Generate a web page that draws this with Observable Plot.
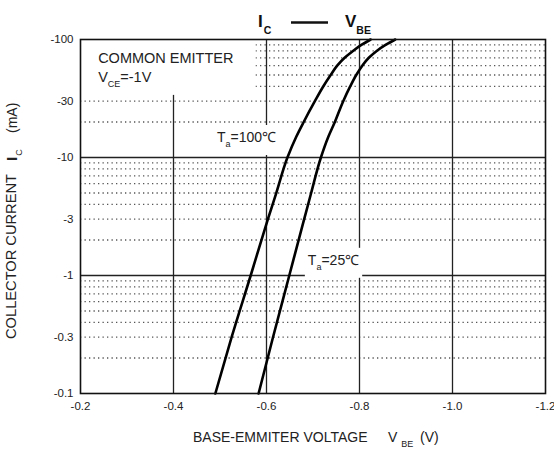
<!DOCTYPE html>
<html><head><meta charset="utf-8">
<script src="https://cdn.jsdelivr.net/npm/d3@7"></script>
<script src="https://cdn.jsdelivr.net/npm/@observablehq/plot@0.6"></script>
<style>
body{margin:0;background:#fff}
#chart svg{font-family:"Liberation Sans",Arial,Helvetica,sans-serif;}
</style>
</head><body><div id="chart"></div>
<script>
// Tick values
const currentTicks = [0.1, 0.3, 1, 3, 10, 30, 100];          // mA (shown negative)
const voltageTicks = [0.2, 0.4, 0.6, 0.8, 1.0, 1.2];          // V (shown negative)
const decadeLines = [1, 10];
const innerVoltageLines = [0.4, 0.6, 0.8, 1.0];
const minorCurrent = [0.2,0.3,0.4,0.5,0.6,0.7,0.8,0.9, 2,3,4,5,6,7,8,9, 20,30,40,50,60,70,80,90];

// Collector current readings (mA)
const icPoints = [0.1, 0.3, 1, 3, 5, 10, 15, 20, 30, 40, 50, 60, 70, 80, 90, 100];
// Ta = 100°C curve: VBE (V)
const vbe100 = [0.490, 0.525, 0.566, 0.603, 0.621, 0.645, 0.664, 0.680, 0.704, 0.722, 0.738, 0.752, 0.768, 0.786, 0.804, 0.824];
// Ta = 25°C curve: VBE (V)
const vbe25  = [0.583, 0.614, 0.649, 0.681, 0.696, 0.717, 0.733, 0.747, 0.765, 0.780, 0.793, 0.806, 0.820, 0.837, 0.856, 0.877];

const series = [
  ...icPoints.map((ic, i) => ({t: "100", ic, vbe: vbe100[i]})),
  ...icPoints.map((ic, i) => ({t: "25", ic, vbe: vbe25[i]}))
];

const chart = Plot.plot({
  width: 554, height: 450,
  marginLeft: 80, marginRight: 9, marginTop: 39, marginBottom: 57,
  style: {fontSize: "11.5px", color: "#222", background: "#fff", fontFamily: '"Liberation Sans",Arial,sans-serif'},
  x: {domain: [0.2, 1.2], ticks: voltageTicks, tickFormat: d => "-" + d.toFixed(1), tickSize: 0, tickPadding: 8, label: null},
  y: {type: "log", domain: [0.1, 100], ticks: currentTicks, tickFormat: d => "-" + d, tickSize: 0, tickPadding: 7, label: null},
  marks: [
    Plot.ruleY(minorCurrent, {stroke: "#555", strokeWidth: 1.3, strokeDasharray: "1.3,3.2"}),
    Plot.ruleY(decadeLines, {stroke: "#222", strokeWidth: 1.3}),
    Plot.ruleX(innerVoltageLines, {stroke: "#222", strokeWidth: 1.3}),
    Plot.line(series, {x: "vbe", y: "ic", z: "t", stroke: "#000", strokeWidth: 2.6, curve: "monotone-y"}),
    Plot.frame({stroke: "#111", strokeWidth: 1.6})
  ]
});
document.getElementById("chart").appendChild(chart);

const FONT = '"Liberation Sans",Arial,sans-serif';
const svgSel = d3.select(chart);
const sx = chart.scale("x"), sy = chart.scale("y");
const lineNode = chart.querySelector('g[aria-label="line"]');
const ann = d3.create("svg:g").attr("font-family", FONT).attr("fill", "#222").attr("text-anchor", "start");
chart.insertBefore(ann.node(), lineNode);

function masked(g, padL, padR, padT, padB, fixed) {
  const b = g.node().getBBox();
  let x0 = b.x - padL, x1 = b.x + b.width + padR, y0 = b.y - padT, y1 = b.y + b.height + padB;
  if (fixed) { x0 = Math.max(x0, fixed.x0); y0 = Math.max(y0, fixed.y0); }
  g.insert("rect", ":first-child").attr("x", x0).attr("y", y0).attr("width", x1 - x0).attr("height", y1 - y0).attr("fill", "#fff");
}

// COMMON EMITTER box
const boxG = ann.append("g");
boxG.append("text").attr("x", sx.apply(0.239)).attr("y", sy.apply(62.7)).attr("font-size", 14.5).text("COMMON EMITTER");
const vce = boxG.append("text").attr("x", sx.apply(0.239)).attr("y", sy.apply(43.3)).attr("font-size", 14.5);
vce.append("tspan").text("V");
vce.append("tspan").attr("font-size", 9).attr("dy", 5).text("CE");
vce.append("tspan").attr("dy", -5).text("=-1V");
masked(boxG, 20, 22, 14, 6, {x0: sx.apply(0.2) + 1, y0: sy.apply(100) + 1});

// Ta labels
function taLabel(v, i, temp) {
  const g = ann.append("g");
  const t = g.append("text").attr("x", sx.apply(v)).attr("y", sy.apply(i)).attr("font-size", 14);
  t.append("tspan").text("T");
  t.append("tspan").attr("font-size", 9).attr("dy", 5).text("a");
  t.append("tspan").attr("dy", -5).text("=" + temp + "℃");
  masked(g, 3, 3, 4, 6);
}
taLabel(0.4946, 13.4, "100");
taLabel(0.690, 1.22, "25");

// Title  I_C —— V_BE
const titleG = svgSel.append("g").attr("font-family", FONT).attr("fill", "#111").attr("font-weight", "bold").attr("text-anchor", "start");
const t1 = titleG.append("text").attr("x", 258).attr("y", 27).attr("font-size", 17);
t1.append("tspan").text("I");
t1.append("tspan").attr("font-size", 10.5).attr("dy", 7).attr("dx", 1).text("C");
titleG.append("line").attr("x1", 291).attr("x2", 328).attr("y1", 22.5).attr("y2", 22.5).attr("stroke", "#111").attr("stroke-width", 2.6);
const t2 = titleG.append("text").attr("x", 345).attr("y", 27).attr("font-size", 17);
t2.append("tspan").text("V");
t2.append("tspan").attr("font-size", 10.5).attr("dy", 7).text("BE");

// X axis title
const xTitle = svgSel.append("g").attr("font-family", FONT).attr("fill", "#222").attr("font-size", 14).attr("text-anchor", "start");
xTitle.append("text").attr("x", 193).attr("y", 442).text("BASE-EMMITER VOLTAGE");
const xv = xTitle.append("text").attr("x", 388).attr("y", 442);
xv.append("tspan").text("V");
xv.append("tspan").attr("font-size", 9).attr("dy", 5).attr("dx", 4).text("BE");
xTitle.append("text").attr("x", 420).attr("y", 442).text("(V)");

// Y axis title (rotated)
const yTitle = svgSel.append("g").attr("transform", "translate(16,0) rotate(-90)").attr("font-family", FONT).attr("fill", "#222").attr("font-size", 14).attr("text-anchor", "start");
yTitle.append("text").attr("x", -339).attr("y", 0).attr("textLength", 165).attr("lengthAdjust", "spacingAndGlyphs").text("COLLECTOR CURRENT");
const yi = yTitle.append("text").attr("x", -161).attr("y", 1);
yi.append("tspan").attr("font-weight", "bold").attr("font-size", 15).text("I");
yi.append("tspan").attr("font-size", 9).attr("dy", 5).attr("dx", 1).text("C");
yTitle.append("text").attr("x", -133).attr("y", 1).text("(mA)");
</script>
</body></html>
